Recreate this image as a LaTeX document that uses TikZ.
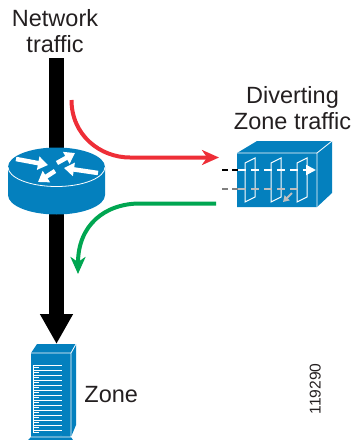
\documentclass[tikz,border=0pt]{standalone}
\usepackage{fontspec}
\setmainfont{Liberation Sans}
\usepackage{xcolor}
\usepackage{tikz}
\usetikzlibrary{arrows.meta,positioning}
\definecolor{iconblue}{HTML}{0480BE}
\definecolor{redflow}{HTML}{EE2E37}
\definecolor{greenflow}{HTML}{00A651}
\definecolor{labelgray}{HTML}{231F20}
\tikzset{icon node/.style={inner sep=0pt,outer sep=0pt},
         label node/.style={inner sep=0pt,outer sep=0pt,align=center,text=labelgray,font=\fontsize{23.5}{26.6}\selectfont},
         trunk/.style={line width=15pt},
         flow/.style={line width=4pt,-{Stealth[length=17pt,width=15pt,inset=5pt]}},
         white arrow/.style={white,line width=4.5pt,-{Triangle[length=10pt,width=13pt]}},
         plane/.style={white,line width=1pt},
         }

\begin{document}
\begin{tikzpicture}[x=1pt,y=1pt]
    \useasboundingbox (0,0) rectangle (353,-440);

    \node[icon node,minimum width=97pt,minimum height=66pt] (router) at (56.5,-181) {};
    \node[label node] (traffic) [above = 94.8pt of router,xshift=-1.5pt] {Network\\traffic};
    \node[icon node,minimum width=95pt,minimum height=66pt] (firewall) [right = 132pt of router,yshift=7pt] {};
    \node[label node] (diverting) [above = 10.8pt of firewall,xshift=8pt] {Diverting\\Zone traffic};
    \node[icon node,minimum width=45pt,minimum height=96pt] (zone) [below = 130pt of router,xshift=-3pt] {};
    \node[label node] (zonetext) [right = 8.5pt of zone,yshift=-3pt] {Zone};
    \node[label node,font=\fontsize{15.6}{18}\selectfont,rotate=90] (figid) at (315.2,-389) {119290};

    \coordinate (redstart) at (71.5,-100);
    \coordinate (redend) at (219,-157.5);
    \coordinate (greenstart) at (216,-203.5);
    \coordinate (greenend) at (78,-274);
    \coordinate (blackdash) at (222,-170);
    \coordinate (graydash) at (222,-189);
    \coordinate (whiteend) at (316,-170);
    \coordinate (grayend) at (300,-189);

    % black trunk
    \draw[trunk,shorten <=4.8pt] (router.north |- traffic.south) -- (router.north);
    \draw[trunk,-{Triangle[length=30pt,width=31pt]}] (router.south) -- (router.south |- zone.north);

    % router
    \fill[iconblue] (8,-167) -- (8,-195) arc (180:360:48.5 and 19.5) -- (105,-167) arc (0:180:48.5 and 19.5) -- cycle;
    \draw[white,line width=.8pt] (8,-167) arc (180:360:48.5 and 19.5);
    \draw[white arrow] (16,-159) -- (48,-165);
    \draw[white arrow] (57,-163) -- (75,-153);
    \draw[white arrow] (98,-173) -- (64,-168);
    \draw[white arrow] (55,-171) -- (38,-182);

    % firewall
    \fill[iconblue] (237,-153) -- (257,-141) -- (332,-141) -- (332,-193) -- (317,-207) -- (237,-207) -- cycle;
    \draw[white,line width=.8pt] (237,-153) -- (317,-153) -- (317,-207) (317,-153) -- (332,-141);
    \foreach \px in {245,271,297}
        \draw[plane] (\px,-163) -- (\px+10,-158) -- (\px+10,-197) -- (\px,-202) -- cycle;
    \draw[line width=2pt,dash pattern=on 6pt off 4pt] (blackdash) -- (238,-170);
    \draw[line width=2pt,gray,dash pattern=on 6pt off 4pt] (graydash) -- (238,-189);
    \draw[white,line width=2pt,dash pattern=on 8pt off 5pt,-{Triangle[length=10pt,width=10pt]}] (238,-170) -- (whiteend);
    \draw[black!25,line width=2pt,dash pattern=on 8pt off 5pt] (238,-189) -- (grayend);
    \draw[black!25,line width=2pt,-{Triangle[length=6pt,width=7pt]}] (292,-193) -- (283,-202);

    % zone server
    \fill[iconblue] (31,-353) -- (37,-344) -- (76,-344) -- (76,-425) -- (71,-437) -- (73,-440) -- (28,-440) -- (31,-437) -- cycle;
    \draw[white,line width=.8pt] (31,-353) -- (71,-353) -- (71,-437) -- (31,-437) (71,-353) -- (76,-344) (72,-437) -- (78,-425);
    \foreach \i in {0,...,13} {
        \draw[white,line width=.8pt] (33,-365-\i*5) -- (62,-365-\i*5);
        \draw[white,line width=.8pt] (33,-367.5-\i*5) -- (39,-367.5-\i*5);
    }
    \draw[white,line width=.8pt] (33,-365) -- (33,-433);

    % flows
    \draw[flow,redflow] (redstart) .. controls (71.5,-135) and (100,-157.5) .. (130,-157.5) -- (redend);
    \draw[flow,greenflow] (greenstart) -- (140,-203.5) .. controls (105,-203.5) and (78,-225) .. (greenend);

\end{tikzpicture}
\end{document}
